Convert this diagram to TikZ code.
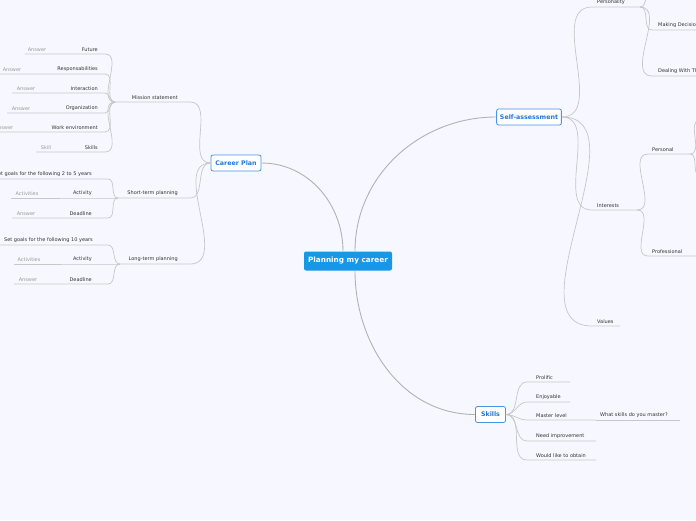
\documentclass[tikz,border=0pt]{standalone}
\usepackage{fontspec}
\setmainfont{DejaVu Sans}
\definecolor{rootc}{RGB}{24,150,232}
\definecolor{subc}{RGB}{30,120,220}
\begin{document}
\begin{tikzpicture}[x=1pt,y=-1pt,
  ln/.style={draw=black!22,line width=0.7pt},
  mn/.style={draw=black!30,line width=0.9pt},
  tx/.style={font=\fontsize{5}{6}\selectfont,text=black!80,inner sep=0pt},
  gx/.style={font=\fontsize{5}{6}\selectfont,text=black!40,inner sep=0pt},
  sub/.style={draw=subc!80,fill=white,rounded corners=2pt,line width=0.8pt,text=subc,font=\bfseries\fontsize{6.3}{7}\selectfont,minimum height=16pt}]
\fill[blue!3!white] (0,0) rectangle (696,520);
\useasboundingbox (0,0) rectangle (696,520);
\clip (0,0) rectangle (696,520);
\node[fill=rootc,text=white,font=\bfseries\fontsize{7.3}{8}\selectfont,rounded corners=2pt,minimum width=88pt,minimum height=19pt] (root) at (348,261) {Planning my career};
\node[sub,minimum width=50pt] (cp) at (236,163) {Career Plan};
\node[sub,minimum width=62pt] (sa) at (529,117) {Self-assessment};
\node[sub,minimum width=30pt] (sk) at (490.5,414.5) {Skills};
\draw[mn] (root.north)+(-5,0) to[out=90,in=0] (cp.east);
\draw[mn] (root.north)+(7,0) to[out=90,in=180] (sa.west);
\draw[mn] (root.south)+(7,0) to[out=-90,in=180] (sk.west);
% Career plan branches
\foreach \y/\t/\a in {102/Mission statement/115, 198/Short-term planning/118, 264/Long-term planning/120}{
  \draw[ln] (cp.west) to[out=180,in=0] (190,\y) -- (\a,\y);
  \node[tx,anchor=south east] at (178,\y-2) {\t};}
\foreach \y/\t/\g/\gx/\s in {54/Future/Answer/37/25, 74/Responsabilities/Answer/12/0, 93/Interaction/Answer/26/12, 113/Organization/Answer/21/7, 132/Work environment/Answer/4/0, 152/Skills/Skill/46/36}{
  \draw[ln] (115,102) to[out=180,in=0] (105,\y) -- (\s,\y);
  \node[tx,anchor=south east] at (98,\y-2) {\t};
  \node[gx,anchor=south] at (\gx,\y-2) {\g};}
\foreach \y/\s/\t/\g/\gx/\b/\e in {179/0/Set goals for the following 2 to 5 years//0/118/108, 198/11/Activity/Activities/27/118/108, 218/12/Deadline/Answer/26/118/108, 245/0/Set goals for the following 10 years//0/120/108, 264/14/Activity/Activities/29/120/108, 284/14/Deadline/Answer/28/120/108}{
  \draw[ln] (\b,\ifdim\y pt<230pt 198\else 264\fi) to[out=180,in=0] (\e,\y) -- (\s,\y);
  \node[gx,anchor=south] at (\gx,\y-2) {\g};}
\node[tx,anchor=south east] at (92,177) {Set goals for the following 2 to 5 years};
\node[tx,anchor=south east] at (93,243) {Set goals for the following 10 years};
\foreach \y/\t in {196/Activity,216/Deadline,262/Activity,282/Deadline}{
  \node[tx,anchor=south east] at (92,\y) {\t};}
% Self-assessment
\foreach \y/\t/\e in {7/Personality/640, 210/Interests/637, 326/Values/620}{
  \draw[ln] (sa.east) to[out=0,in=180] (592,\y) -- (\e,\y);
  \node[tx,anchor=south west] at (597,\y-2) {\t};}
\foreach \y in {-12, 30, 76}{
  \draw[ln] (640,7) to[out=0,in=180] (652,\y) -- (700,\y);}
\node[tx,anchor=south west] at (658,28) {Making Decisions};
\node[tx,anchor=south west] at (658,74) {Dealing With Things};
\foreach \y/\t/\e in {154/Personal/690, 256/Professional/700}{
  \draw[ln] (637,210) to[out=0,in=180] (648,\y) -- (\e,\y);
  \node[tx,anchor=south west] at (652,\y-2) {\t};}
\draw[ln] (690,154) to[out=0,in=180] (700,120);
\draw[ln] (690,154) to[out=0,in=180] (700,175);
% Skills
\foreach \y/\t/\e in {382/Prolific/570, 402/Enjoyable/570, 420/Master level/596, 441/Need improvement/596, 460/Would like to obtain/596}{
  \draw[ln] (sk.east) to[out=0,in=180] (527,\y) -- (\e,\y);
  \node[tx,anchor=south west] at (536,\y-2) {\t};}
\draw[ln] (596,420) -- (680,420);
\node[tx,anchor=south west] at (600,418) {What skills do you master?};
\end{tikzpicture}
\end{document}
